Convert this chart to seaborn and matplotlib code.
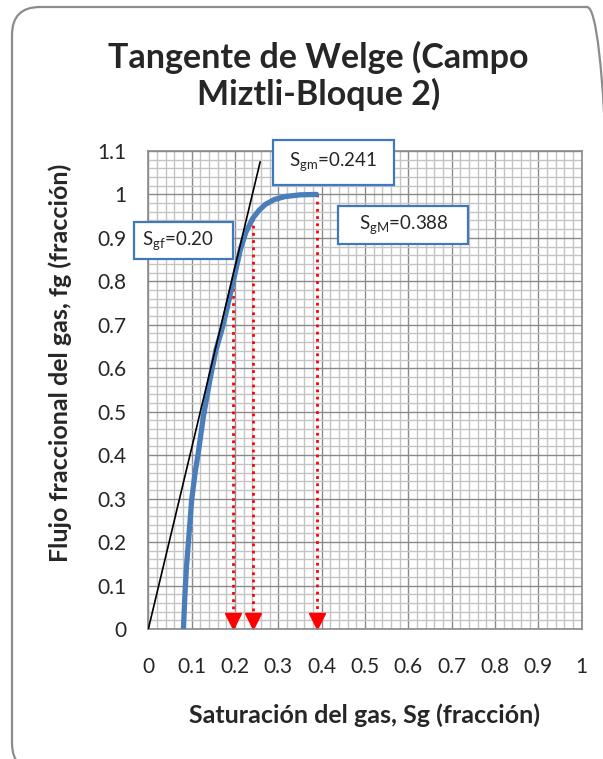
import matplotlib
matplotlib.use("Agg")
import matplotlib.pyplot as plt
import seaborn as sns
from matplotlib.patches import FancyBboxPatch, Rectangle
from matplotlib.ticker import MultipleLocator
from matplotlib.transforms import IdentityTransform

# Curva de flujo fraccional del gas
sg = [0.081, 0.084, 0.088, 0.094, 0.100, 0.108, 0.115, 0.127, 0.142, 0.156,
      0.170, 0.181, 0.196, 0.212, 0.225, 0.241, 0.255, 0.270, 0.290, 0.315,
      0.350, 0.388]
fg = [0.000, 0.070, 0.143, 0.220, 0.297, 0.360, 0.404, 0.489, 0.573, 0.642,
      0.690, 0.735, 0.800, 0.872, 0.913, 0.945, 0.963, 0.977, 0.988, 0.995,
      0.999, 1.000]

# Tangente de Welge
tan_sg = [0.0, 0.258]
tan_fg = [0.0, 1.075]

# Saturaciones marcadas (Sgf, Sgm, SgM)
marcas_sg = [0.196, 0.241, 0.388]
marcas_fg = [0.800, 0.945, 1.000]
etiquetas = [r"S$_{\mathregular{gf}}$=0.20", r"S$_{\mathregular{gm}}$=0.241",
             r"S$_{\mathregular{gM}}$=0.388"]

x_ticks = [0, 0.1, 0.2, 0.3, 0.4, 0.5, 0.6, 0.7, 0.8, 0.9, 1.0]
x_labels = ["0", "0.1", "0.2", "0.3", "0.4", "0.5", "0.6", "0.7", "0.8", "0.9", "1"]
y_ticks = [0, 0.1, 0.2, 0.3, 0.4, 0.5, 0.6, 0.7, 0.8, 0.9, 1.0, 1.1]
y_labels = ["0", "0.1", "0.2", "0.3", "0.4", "0.5", "0.6", "0.7", "0.8", "0.9", "1", "1.1"]

sns.set_style("white")
plt.rcParams['font.family'] = ['Lato', 'DejaVu Sans']
plt.rcParams['mathtext.fontset'] = 'custom'
plt.rcParams['mathtext.rm'] = 'Lato'
plt.rcParams['mathtext.it'] = 'Lato'

fig = plt.figure(figsize=(6.03, 7.59), dpi=100)
ax = fig.add_axes([0.246, 0.1713, 0.7188, 0.6298])

# marco redondeado del gráfico
marco = FancyBboxPatch((12, -12), 603, 764, boxstyle="round,pad=0,rounding_size=28",
                       transform=IdentityTransform(), facecolor="none",
                       edgecolor="#8c8c8c", lw=1.6)
fig.patches.append(marco)

# rejilla
ax.set_xlim(0, 1)
ax.set_ylim(0, 1.1)
ax.xaxis.set_minor_locator(MultipleLocator(0.02))
ax.yaxis.set_minor_locator(MultipleLocator(0.02))
ax.set_xticks(x_ticks)
ax.set_xticklabels(x_labels)
ax.set_yticks(y_ticks)
ax.set_yticklabels(y_labels)
ax.grid(which="minor", color="#c4c4c4", lw=1.0)
ax.grid(which="major", color="#8a8a8a", lw=1.0)
ax.set_axisbelow(True)
ax.tick_params(which="both", length=0, labelsize=15)
ax.tick_params(axis="x", pad=20)
ax.tick_params(axis="y", pad=16)
for s in ax.spines.values():
    s.set_color("#8a8a8a")
    s.set_linewidth(1.2)

# curva y tangente
sns.lineplot(x=sg, y=fg, sort=False, color="#4a7ebb", lw=3.8, ax=ax, zorder=3)
sns.lineplot(x=tan_sg, y=tan_fg, sort=False, color="black", lw=1.2, ax=ax, zorder=4)

# flechas rojas punteadas
for x, y in zip(marcas_sg, marcas_fg):
    ax.plot([x, x], [y, 0.03], color="red", ls=(0, (1, 1.6)), lw=2.0, zorder=2)
    ax.plot(x, 0.018, marker="v", color="red", markersize=11, zorder=2)

# cuadros de texto
cajas = [(-0.033, 0.852, 0.228, 0.085), (0.288, 1.022, 0.279, 0.103), (0.438, 0.886, 0.300, 0.088)]
pos_txt = [(0.067, 0.895), (0.427, 1.075), (0.589, 0.930)]
for (x0, y0, w, h), (tx, ty), lab in zip(cajas, pos_txt, etiquetas):
    ax.add_patch(Rectangle((x0, y0), w, h, facecolor="white", edgecolor="#3f78bd",
                           lw=1.6, clip_on=False, zorder=5))
    ax.text(tx, ty, lab, ha="center", va="center", fontsize=13.5, zorder=6, clip_on=False)

fig.text(0.528, 0.900, "Tangente de Welge (Campo\nMiztli-Bloque 2)", ha="center", va="center",
         fontsize=24.5, fontweight="bold", linespacing=1.15)
fig.text(0.604, 0.058, "Saturación del gas, Sg (fracción)", ha="center", va="center",
         fontsize=18, fontweight="bold")
fig.text(0.1, 1 - 363 / 759, "Flujo fraccional del gas, fg (fracción)", ha="center", va="center",
         rotation=90, fontsize=18, fontweight="bold")

fig.savefig("out.png", dpi=100)
